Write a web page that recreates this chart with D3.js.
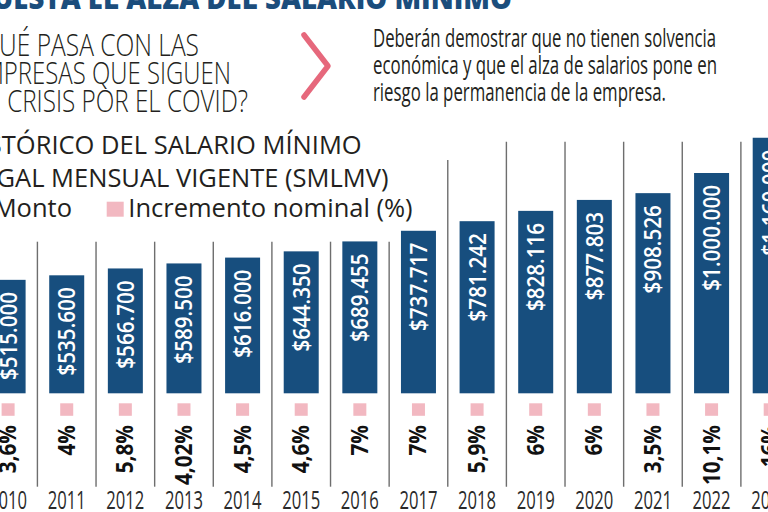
<!DOCTYPE html>
<html><head><meta charset="utf-8">
<script src="https://cdn.jsdelivr.net/npm/d3@7"></script>
<style>html,body{margin:0;padding:0;background:#fff;overflow:hidden}</style>
</head><body><svg id="c" width="768" height="512"></svg>
<script>
const years = ["2010","2011","2012","2013","2014","2015","2016","2017","2018","2019","2020","2021","2022","2023"];
const montos = [515000,535600,566700,589500,616000,644350,689455,737717,781242,828116,877803,908526,1000000,1160000];
const montoLabels = ["$515.000","$535.600","$566.700","$589.500","$616.000","$644.350","$689.455","$737.717","$781.242","$828.116","$877.803","$908.526","$1.000.000","$1.160.000"];
const incrementos = ["3,6%","4%","5,8%","4,02%","4,5%","4,6%","7%","7%","5,9%","6%","6%","3,5%","10,1%","16%"];
const titleTop = "CUESTA EL ALZA DEL SALARIO MÍNIMO";
const questionLines = ["¿QUÉ PASA CON LAS","EMPRESAS QUE SIGUEN","EN CRISIS POR EL COVID?"];
const answerLines = ["Deberán demostrar que no tienen solvencia","económica y que el alza de salarios pone en","riesgo la permanencia de la empresa."];
const chartTitle = ["HISTÓRICO DEL SALARIO MÍNIMO","LEGAL MENSUAL VIGENTE (SMLMV)"];
const legendItems = ["Monto","Incremento nominal (%)"];

const BLUE = "#174e7e", PINK = "#f2b8c1", TEXT = "#231f20", GRID = "#6e6e6e";
const svg = d3.select("#c");
const FONT = "'Open Sans', 'Noto Sans', sans-serif";

const x = d3.scalePoint().domain(years).range([8.1, 770.2]);
const step = x.step();
const y = d3.scaleLinear().domain([0, 1000000]).range([393.3, 173]);
const barW = 35;

// top title (cut)
svg.append("text").attr("transform", "translate(512,9) scale(0.92,1)").attr("text-anchor", "end")
  .attr("font-family", FONT).attr("font-weight", 800).attr("font-size", 30)
  .attr("fill", "#1b4d7c").text(titleTop);

// question
questionLines.forEach((t, i) => {
  const ends = [199, 231, 248];
  svg.append("text").attr("x", -30).attr("y", 56 + i * 28)
    .attr("textLength", ends[i] + 30).attr("lengthAdjust", "spacingAndGlyphs")
    .attr("font-family", FONT).attr("font-weight", 300).attr("font-size", 31)
    .attr("fill", TEXT).text(t);
});

// chevron
svg.append("path").attr("d", "M304,35 L328,66 L304,97")
  .attr("fill", "none").attr("stroke", "#e6687c").attr("stroke-width", 5.5)
  .attr("stroke-linecap", "round").attr("stroke-linejoin", "round");

// answer
answerLines.forEach((t, i) => {
  const ends = [716, 717, 666];
  svg.append("text").attr("x", 373).attr("y", 47 + i * 27)
    .attr("textLength", ends[i] - 373).attr("lengthAdjust", "spacingAndGlyphs")
    .attr("font-family", FONT).attr("font-weight", 400).attr("font-size", 25)
    .attr("fill", TEXT).text(t);
});

// separators
const seps = years.slice(0, -1).map((d) => x(d) + step / 2);
svg.append("g").selectAll("line").data(seps).join("line")
  .attr("x1", d => d).attr("x2", d => d)
  .attr("y1", d => d < 400 ? 241.7 : d < 460 ? 160 : 141.7)
  .attr("y2", 486.7)
  .attr("stroke", GRID).attr("stroke-width", 1.4);

// chart title
chartTitle.forEach((t, i) => {
  const ends = [361.7, 388.5];
  svg.append("text").attr("x", ends[i]).attr("y", 153.5 + i * 33)
    .attr("text-anchor", "end")
    .attr("font-family", FONT).attr("font-weight", 400).attr("font-size", 25.5)
    .attr("fill", TEXT).text(t);
});

// legend
svg.append("rect").attr("x", -30).attr("y", 201.7).attr("width", 15).attr("height", 15).attr("fill", BLUE);
svg.append("text").attr("x", 72).attr("y", 217).attr("text-anchor", "end")
  .attr("font-family", FONT).attr("font-size", 25.5).attr("fill", TEXT).text(legendItems[0]);
svg.append("rect").attr("x", 106.7).attr("y", 201.7).attr("width", 17).attr("height", 15).attr("fill", PINK);
svg.append("text").attr("x", 128.3).attr("y", 217)
  .attr("font-family", FONT).attr("font-size", 25.5).attr("fill", TEXT).text(legendItems[1]);

// bars
const g = svg.append("g");
g.selectAll("rect.bar").data(years).join("rect").attr("class", "bar")
  .attr("x", d => x(d) - barW / 2).attr("width", barW)
  .attr("y", (d, i) => y(montos[i])).attr("height", (d, i) => y(0) - y(montos[i]))
  .attr("fill", BLUE);

g.selectAll("text.val").data(years).join("text").attr("class", "val")
  .attr("transform", (d, i) => `translate(${x(d) + 8.5},${y(montos[i]) + 12}) rotate(-90) scale(0.86,1)`)
  .attr("text-anchor", "end")
  .attr("font-family", FONT).attr("font-weight", 600).attr("font-size", 24)
  .attr("fill", "#fff").text((d, i) => montoLabels[i]);

// pink markers
g.selectAll("rect.pk").data(years).join("rect").attr("class", "pk")
  .attr("x", d => x(d) - 6.5).attr("width", 13)
  .attr("y", 403.3).attr("height", 12.5).attr("fill", PINK);

// percent labels
g.selectAll("text.pct").data(years).join("text").attr("class", "pct")
  .attr("transform", d => `translate(${x(d) + 8},425) rotate(-90) scale(0.9,1)`)
  .attr("text-anchor", "end")
  .attr("font-family", FONT).attr("font-weight", 700).attr("font-size", 23)
  .attr("fill", "#111").text((d, i) => incrementos[i]);

// year axis labels
g.selectAll("text.yr").data(years).join("text").attr("class", "yr")
  .attr("transform", d => `translate(${x(d)},508.5) scale(0.64,1)`)
  .attr("text-anchor", "middle")
  .attr("font-family", FONT).attr("font-weight", 400).attr("font-size", 26)
  .attr("fill", "#2a2a2a").text(d => d);
</script></body></html>
